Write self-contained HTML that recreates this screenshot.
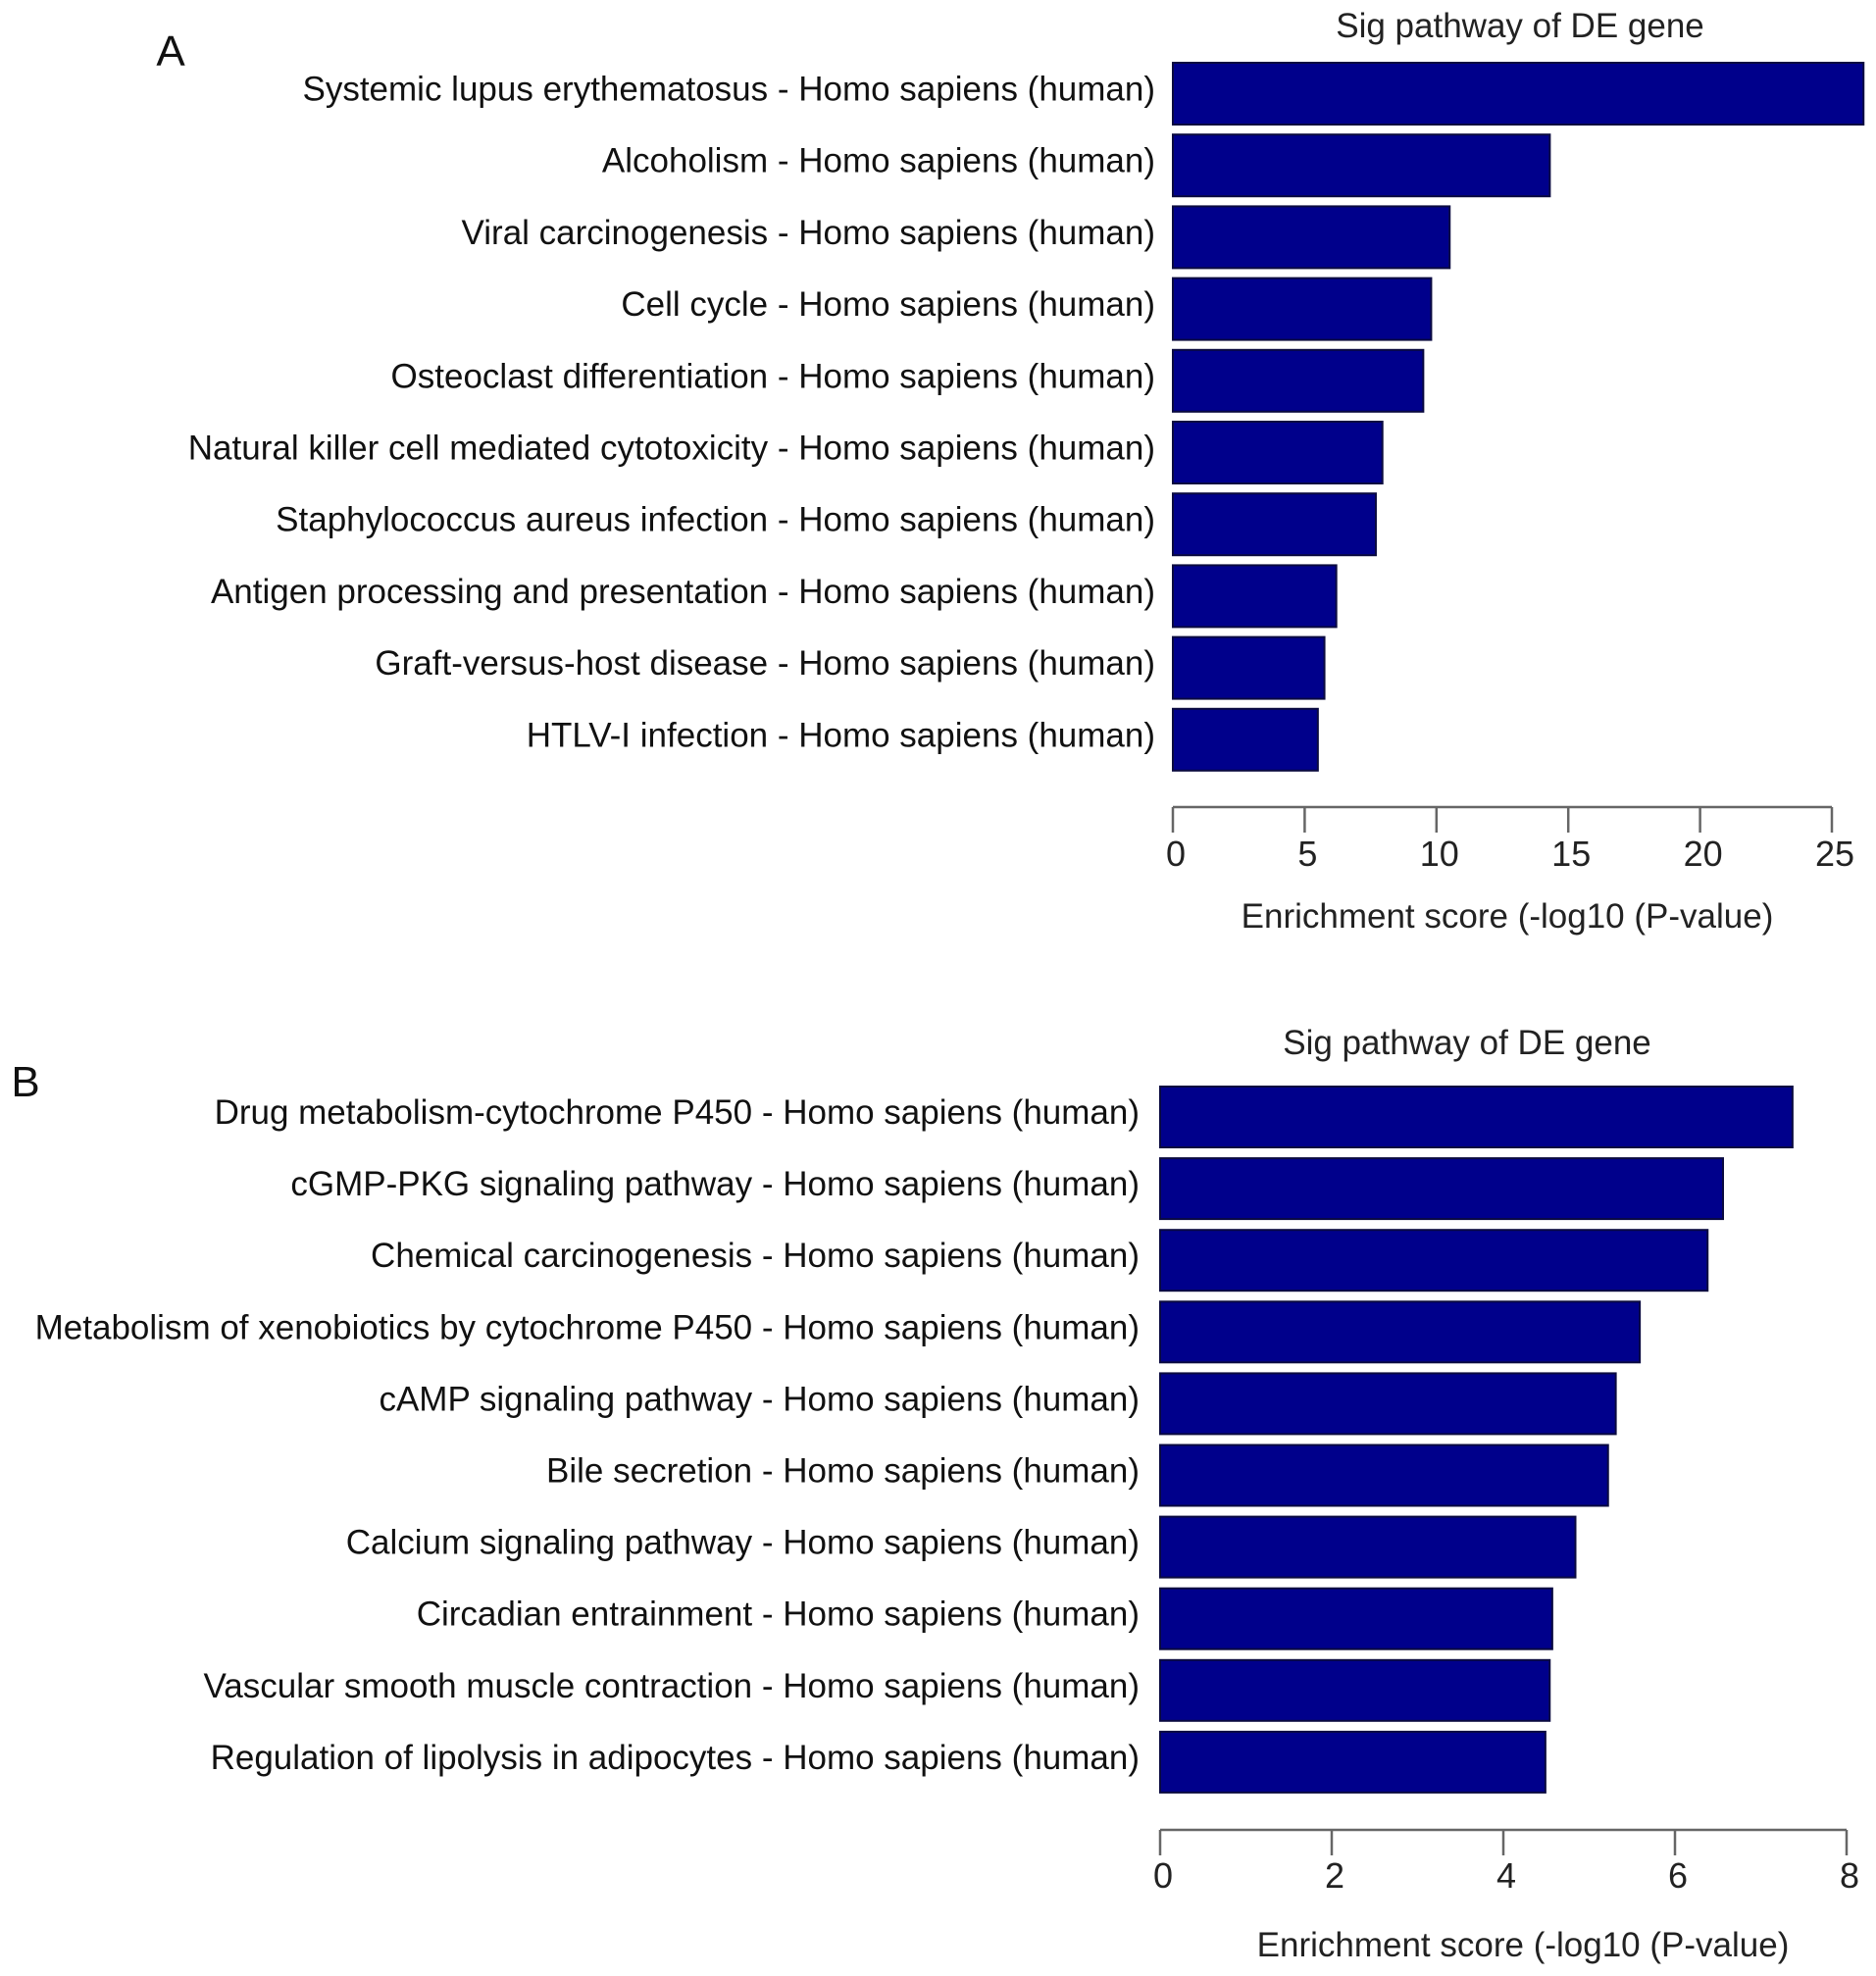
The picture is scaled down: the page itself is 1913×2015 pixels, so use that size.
<!DOCTYPE html>
<html><head><meta charset="utf-8"><style>
html,body{margin:0;padding:0;background:#fff;}
svg{display:block;font-family:"Liberation Sans",Arial,sans-serif;}
</style></head><body>
<svg id="chart" width="1913" height="2015" viewBox="0 0 1913 2015">
<text x="174" y="67" font-size="44" text-anchor="middle" fill="#111">A</text>
<text x="26" y="1118" font-size="44" text-anchor="middle" fill="#111">B</text>
</svg>
<script>
const catsA = ["Systemic lupus erythematosus - Homo sapiens (human)","Alcoholism - Homo sapiens (human)","Viral carcinogenesis - Homo sapiens (human)","Cell cycle - Homo sapiens (human)","Osteoclast differentiation - Homo sapiens (human)","Natural killer cell mediated cytotoxicity - Homo sapiens (human)","Staphylococcus aureus infection - Homo sapiens (human)","Antigen processing and presentation - Homo sapiens (human)","Graft-versus-host disease - Homo sapiens (human)","HTLV-I infection - Homo sapiens (human)"];
const valsA = [26.2,14.3,10.5,9.8,9.5,7.95,7.7,6.2,5.75,5.5];
const ticksA = [0,5,10,15,20,25];
const catsB = ["Drug metabolism-cytochrome P450 - Homo sapiens (human)","cGMP-PKG signaling pathway - Homo sapiens (human)","Chemical carcinogenesis - Homo sapiens (human)","Metabolism of xenobiotics by cytochrome P450 - Homo sapiens (human)","cAMP signaling pathway - Homo sapiens (human)","Bile secretion - Homo sapiens (human)","Calcium signaling pathway - Homo sapiens (human)","Circadian entrainment - Homo sapiens (human)","Vascular smooth muscle contraction - Homo sapiens (human)","Regulation of lipolysis in adipocytes - Homo sapiens (human)"];
const valsB = [7.37,6.56,6.38,5.59,5.31,5.22,4.84,4.57,4.54,4.49];
const ticksB = [0,2,4,6,8];

const NS="http://www.w3.org/2000/svg";
const svg=document.getElementById('chart');
function mk(tag,attrs,parent){const e=document.createElementNS(NS,tag);for(const k in attrs)e.setAttribute(k,attrs[k]);(parent||svg).appendChild(e);return e;}

function panel(p,cats,vals,ticks,cfg){
  const g=mk('g',{});
  
  
  const xs=v=>cfg.x0+(v-ticks[0])/(ticks[ticks.length-1]-ticks[0])*(cfg.x1-cfg.x0);
  const t=mk('text',{x:cfg.titleX,y:cfg.titleY,'font-size':35,'text-anchor':'middle',fill:'#222'},g);
  t.textContent='Sig pathway of DE gene';
  
  
  cats.forEach((c,i)=>{
    const y=cfg.top+i*cfg.pitch;
    const r=mk('rect',{x:xs(0),y:y,width:xs(vals[i])-xs(0),height:cfg.h,fill:'#00008b',stroke:'#0a0a40','stroke-width':2},g);
    
    
    const l=mk('text',{x:cfg.labelX,y:y+cfg.h/2+7,'font-size':35,'text-anchor':'end',fill:'#111'},g);
    l.textContent=c;
    
    
  });
  const ax=mk('line',{x1:xs(ticks[0]),x2:xs(ticks[ticks.length-1]),y1:cfg.axisY,y2:cfg.axisY,stroke:'#666','stroke-width':2.5},g);
  
  
  ticks.forEach(v=>{
    const tk=mk('line',{x1:xs(v),x2:xs(v),y1:cfg.axisY,y2:cfg.axisY+26,stroke:'#666','stroke-width':2.5},g);
    
    
    const tl=mk('text',{x:xs(v)+3,y:cfg.tickY,'font-size':36,'text-anchor':'middle',fill:'#222'},g);
    tl.textContent=v;
    
    
  });
  const at=mk('text',{x:cfg.axTitleX,y:cfg.axTitleY,'font-size':35,'text-anchor':'middle',fill:'#222'},g);
  at.textContent='Enrichment score (-log10 (P-value)';
  
  
}
panel('a',catsA,valsA,ticksA,{x0:1196,x1:1868,top:64,pitch:73.2,h:63,labelX:1178,axisY:823,tickY:883,titleX:1550,titleY:38,axTitleX:1537,axTitleY:946});
panel('b',catsB,valsB,ticksB,{x0:1183,x1:1883,top:1108,pitch:73.1,h:62,labelX:1162,axisY:1866,tickY:1925,titleX:1496,titleY:1075,axTitleX:1553,axTitleY:1995});
</script>
</body></html>
